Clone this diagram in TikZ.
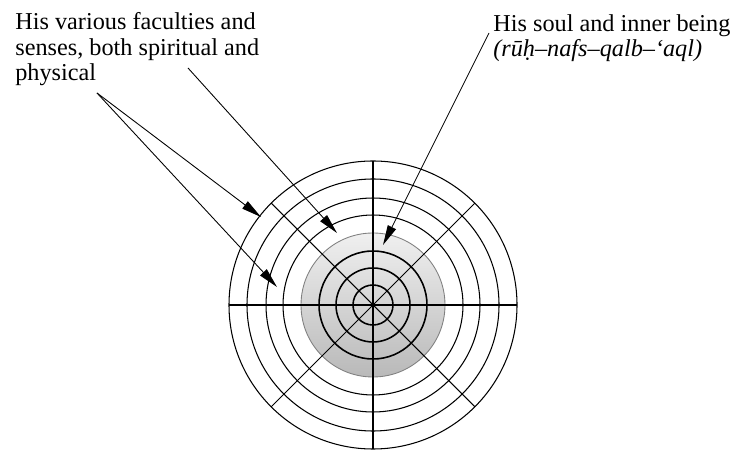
\documentclass[tikz,border=0pt]{standalone}
\usepackage{fontspec}
\setmainfont{Liberation Serif}
\usetikzlibrary{arrows.meta,positioning,calc}
\tikzset{
    ring/.style={line width=0.6pt},
    innerring/.style={line width=0.9pt},
    labeltext/.style={align=left, inner sep=0pt,
        font=\fontsize{13.8}{14.6}\selectfont},
    pointer/.style={-{Triangle[length=4mm, width=1.8mm]}, line width=0.5pt}
}

\begin{document}
\begin{tikzpicture}[x=0.02cm, y=-0.02cm]
\useasboundingbox (0,0) rectangle (740,455);
\coordinate (c) at (373,305);
% shaded core
\shade[top color=gray!12, bottom color=gray!55] (c) circle (72);
\draw[black!50, line width=0.5pt] (c) circle (72);
% rings
\foreach \r in {90,107,126,144}
    \draw[ring] (c) circle (\r);
\foreach \r in {20,37,54}
    \draw[innerring] (c) circle (\r);
% spokes
\foreach \a in {0,90}
    \draw[innerring] ($(c)+(\a:144)$) -- ($(c)+(\a+180:144)$);
\foreach \a in {45,135}
    \draw[ring] ($(c)+(\a:144)$) -- ($(c)+(\a+180:144)$);
% labels
\node[labeltext, anchor=north west] (faculties) at (15,12)
    {His various faculties and\\senses, both spiritual and\\physical};
\node[labeltext, anchor=north west] (soul) at (493,14)
    {His soul and inner being\\\textit{(rūḥ–nafs–qalb–‘aql)}};
% pointers
\coordinate (f1) at (97,93);
\coordinate (f2) at (188,68);
\coordinate (s1) at (489,33);
\coordinate (t1) at (261,217);
\coordinate (t2) at (277,287);
\coordinate (t3) at (337,233);
\coordinate (t4) at (383,245);
\draw[pointer] (f1) -- (t1);
\draw[pointer] (f1) -- (t2);
\draw[pointer] (f2) -- (t3);
\draw[pointer] (s1) -- (t4);
\end{tikzpicture}
\end{document}
